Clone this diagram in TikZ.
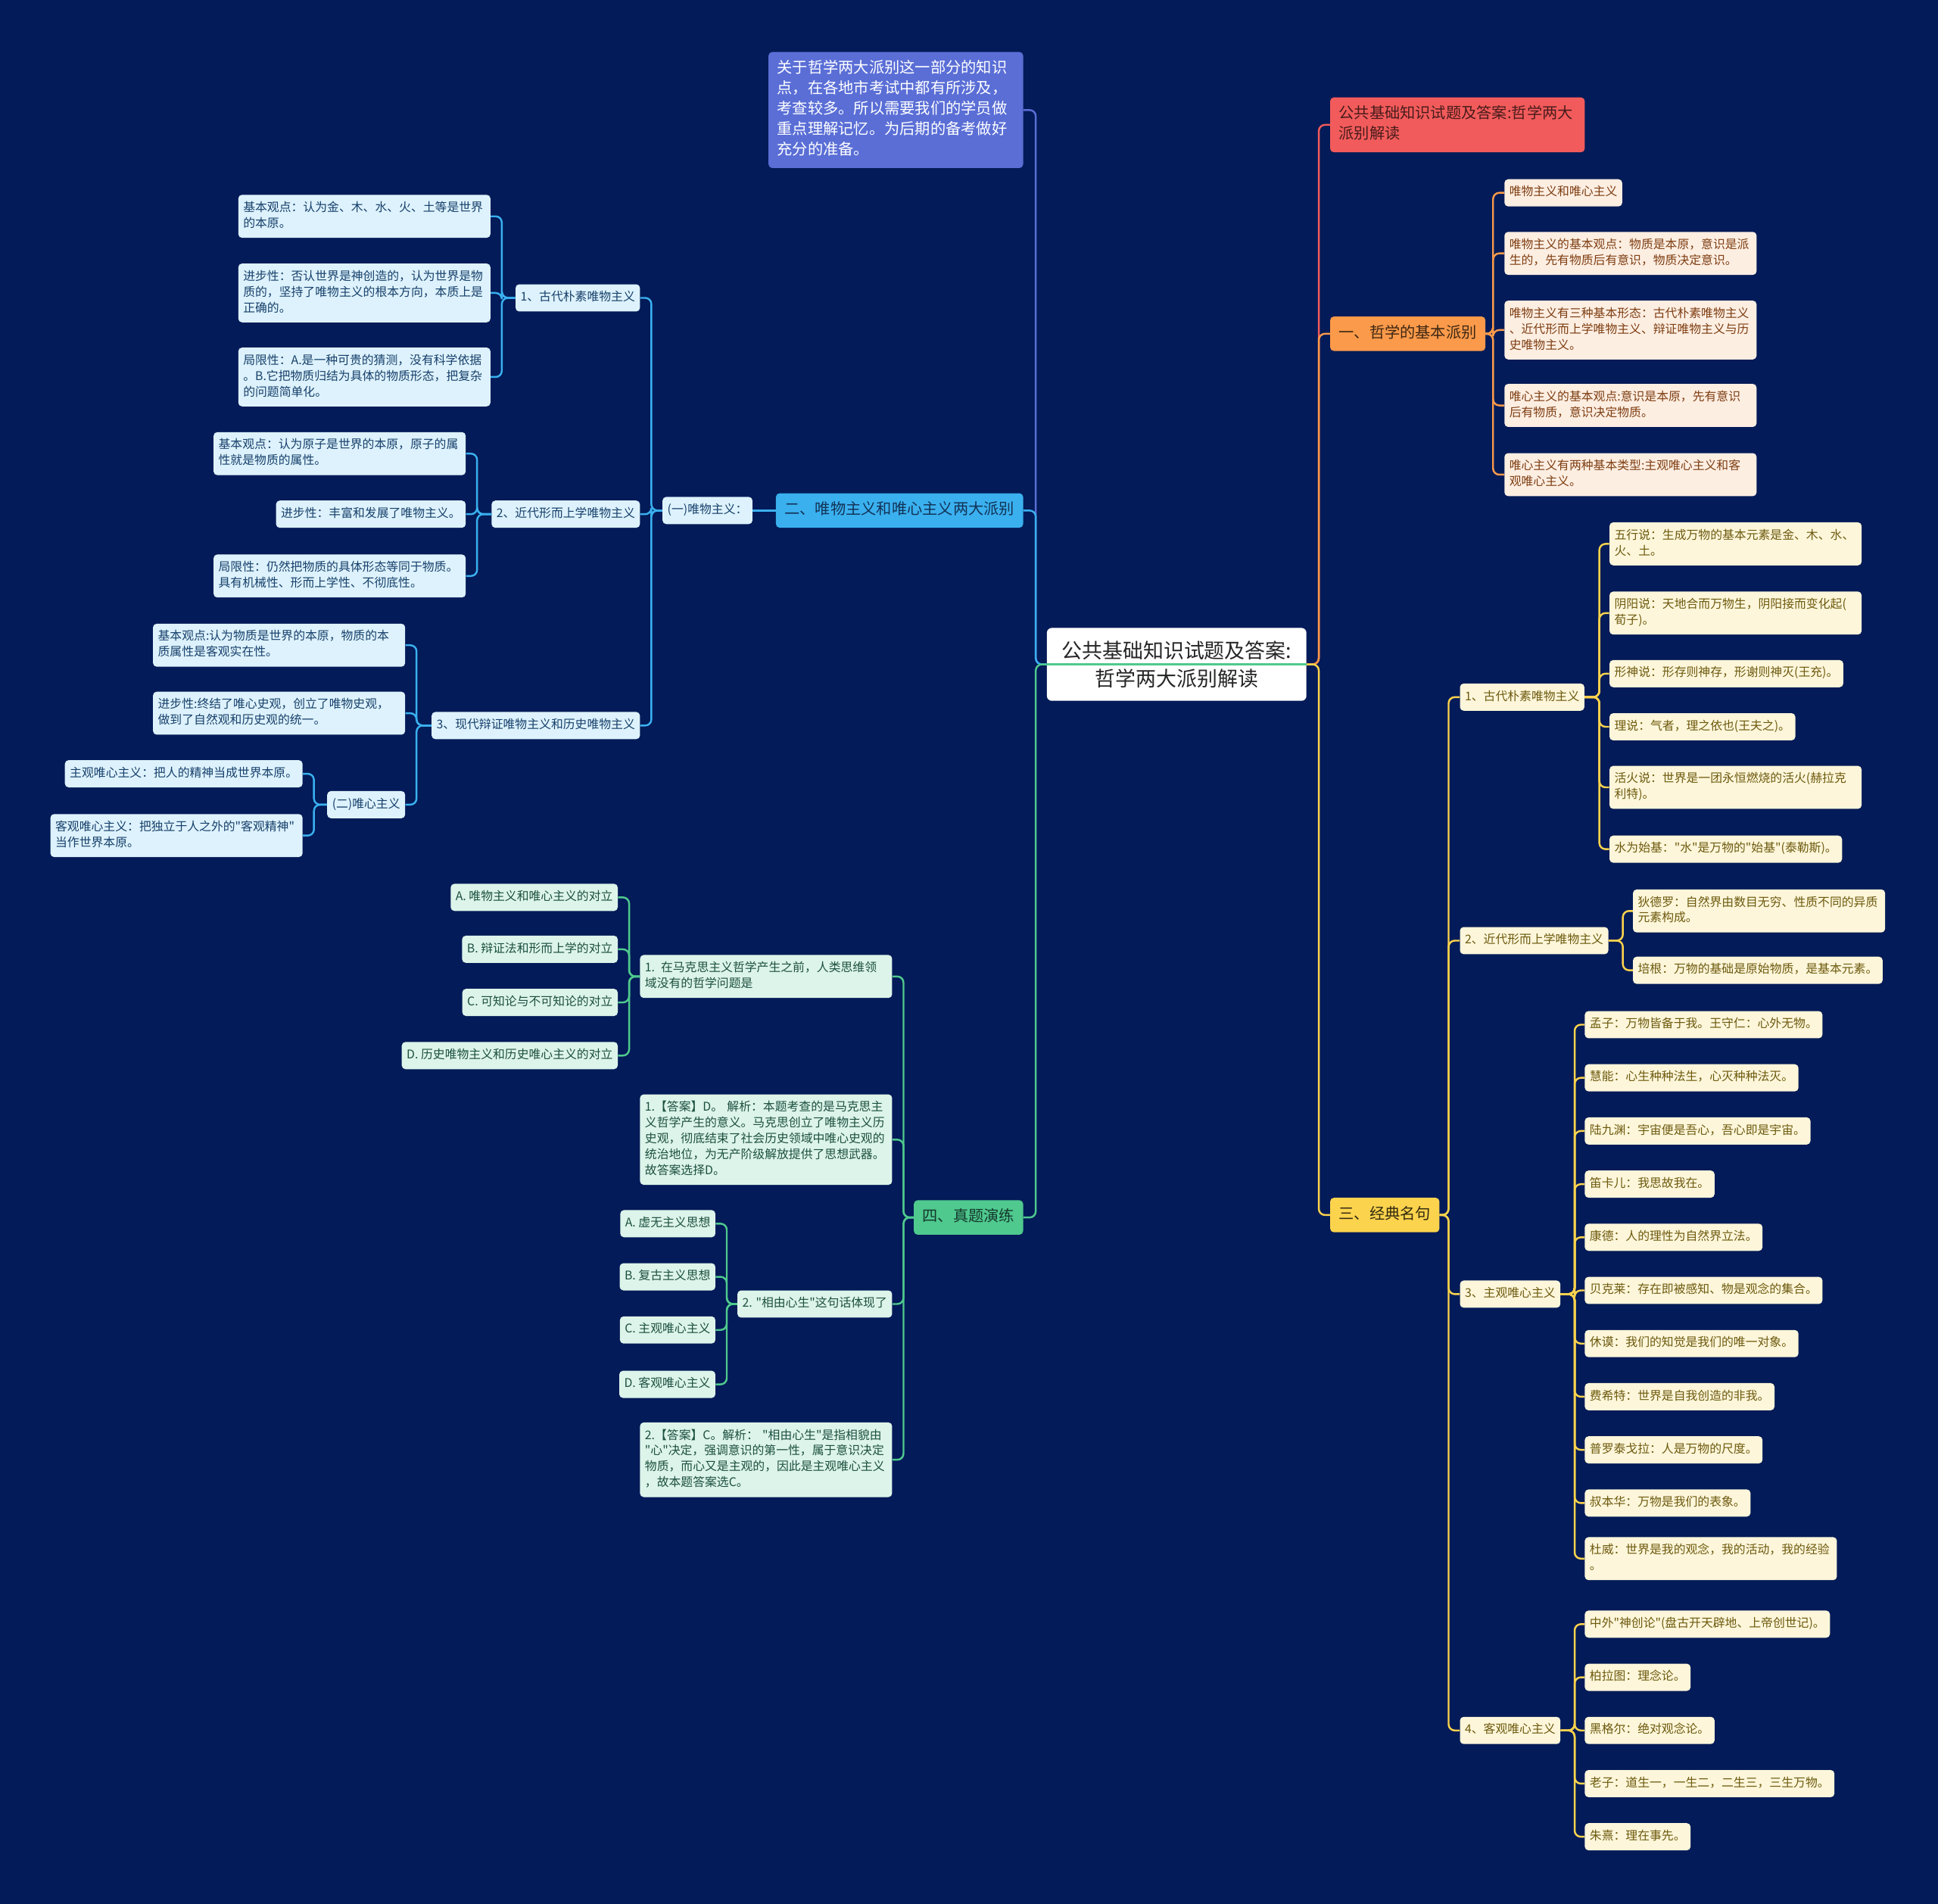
\documentclass[tikz,border=0pt]{standalone}
\usepackage{fontspec}
\setmainfont{Noto Sans CJK SC}
\newfontfamily\cjk{Noto Sans CJK SC}
\definecolor{bg}{HTML}{031B58}
\definecolor{notec}{HTML}{5A6ED6}
\definecolor{lblue}{HTML}{3AB0EF}
\definecolor{lbfill}{HTML}{DDF2FC}
\definecolor{lbtext}{HTML}{17406B}
\definecolor{gline}{HTML}{4FC98E}
\definecolor{gfill}{HTML}{DDF4EA}
\definecolor{gtext}{HTML}{1C5040}
\definecolor{redc}{HTML}{F25B5B}
\definecolor{orc}{HTML}{FA9A4A}
\definecolor{orfill}{HTML}{FDEEE2}
\definecolor{ortext}{HTML}{7E3E12}
\definecolor{yelc}{HTML}{FCD34D}
\definecolor{yfill}{HTML}{FDF6DA}
\definecolor{ytext}{HTML}{6D5A0E}
\newcommand\leaffont{\cjk\fontsize{9.7}{12.8}\selectfont}
\newcommand\lvlfont{\cjk\fontsize{12.4}{16.5}\selectfont}
\newcommand\rootfont{\cjk\fontsize{16.5}{23}\selectfont}
\tikzset{
  box/.style={rounded corners=3pt, inner xsep=4pt, inner ysep=4.6pt,
    execute at begin node=\strut, execute at end node=\strut,
    align=left, font=\leaffont},
  multi/.style={text width=196pt},
  lb/.style={box, fill=lbfill, text=lbtext},
  gb/.style={box, fill=gfill, text=gtext},
  ob/.style={box, fill=orfill, text=ortext},
  yb/.style={box, fill=yfill, text=ytext},
  lvl/.style={box, font=\lvlfont, inner xsep=7pt, inner ysep=5.7pt},
  cb/.style={draw=lblue, line width=1.5pt, rounded corners=5pt},
  cn/.style={draw=notec, line width=1.5pt, rounded corners=5pt},
  cg/.style={draw=gline, line width=1.5pt, rounded corners=5pt},
  cr/.style={draw=redc, line width=1.5pt, rounded corners=5pt},
  co/.style={draw=orc, line width=1.5pt, rounded corners=5pt},
  cy/.style={draw=yelc, line width=1.5pt, rounded corners=5pt},
}
\begin{document}
\begin{tikzpicture}[x=1pt,y=-1pt]
\fill[bg] (0,0) rectangle (1568,1540.4);
\useasboundingbox (0,0) rectangle (1568,1540.4);

% root
\node[rounded corners=4pt, fill=white, text=black!85, font=\rootfont, align=center,
  minimum width=210pt, minimum height=59pt, inner sep=2pt] (root) at (952,537.5)
  {公共基础知识试题及答案:\\哲学两大派别解读};

% ---------- left: note ----------
\node[lvl, fill=notec, text=white, text width=192pt, anchor=east] (note) at (828,89)
 {关于哲学两大派别这一部分的知识\\点，在各地市考试中都有所涉及，\\考查较多。所以需要我们的学员做\\重点理解记忆。为后期的备考做好\\充分的准备。};

% ---------- left: 二 ----------
\node[lvl, fill=lblue, text=black!20!lbtext, anchor=east] (n2) at (828,413) {二、唯物主义和唯心主义两大派别};
\node[lb, anchor=east] (m) at (609,413) {(一)唯物主义：};
\node[lb, anchor=east] (m1) at (518,241) {1、古代朴素唯物主义};
\node[lb, anchor=east] (m2) at (518,416) {2、近代形而上学唯物主义};
\node[lb, anchor=east] (m3) at (518,587) {3、现代辩证唯物主义和历史唯物主义};

\node[lb, multi, anchor=east] (a1) at (397,175) {基本观点：认为金、木、水、火、土等是世界\\的本原。};
\node[lb, multi, anchor=east] (a2) at (397,237) {进步性：否认世界是神创造的，认为世界是物\\质的，坚持了唯物主义的根本方向，本质上是\\正确的。};
\node[lb, multi, anchor=east] (a3) at (397,305) {局限性：A.是一种可贵的猜测，没有科学依据\\。B.它把物质归结为具体的物质形态，把复杂\\的问题简单化。};

\node[lb, multi, anchor=east] (b1) at (377,367) {基本观点：认为原子是世界的本原，原子的属\\性就是物质的属性。};
\node[lb, anchor=east] (b2) at (377,416) {进步性：丰富和发展了唯物主义。};
\node[lb, multi, anchor=east] (b3) at (377,466) {局限性：仍然把物质的具体形态等同于物质。\\具有机械性、形而上学性、不彻底性。};

\node[lb, multi, anchor=east] (c1) at (328,522) {基本观点:认为物质是世界的本原，物质的本\\质属性是客观实在性。};
\node[lb, multi, anchor=east] (c2) at (328,577) {进步性:终结了唯心史观，创立了唯物史观，\\做到了自然观和历史观的统一。};
\node[lb, anchor=east] (c3) at (328,651) {(二)唯心主义};

\node[lb, anchor=east] (d1) at (245,626) {主观唯心主义：把人的精神当成世界本原。};
\node[lb, multi, anchor=east] (d2) at (245,676) {客观唯心主义：把独立于人之外的"客观精神"\\当作世界本原。};

% ---------- left: 四 ----------
\node[lvl, fill=gline, text=black!30!gtext, anchor=east] (n4) at (828,985) {四、真题演练};
\node[gb, multi, anchor=east] (q1) at (722,790) {1. 在马克思主义哲学产生之前，人类思维领\\域没有的哲学问题是};
\node[gb, multi, anchor=east] (qa1) at (722,922) {1.【答案】D。 解析：本题考查的是马克思主\\义哲学产生的意义。马克思创立了唯物主义历\\史观，彻底结束了社会历史领域中唯心史观的\\统治地位，为无产阶级解放提供了思想武器。\\故答案选择D。};
\node[gb, anchor=east] (q2) at (722,1055) {2. "相由心生"这句话体现了};
\node[gb, multi, anchor=east] (qa2) at (722,1181) {2.【答案】C。解析： "相由心生"是指相貌由\\"心"决定，强调意识的第一性，属于意识决定\\物质，而心又是主观的，因此是主观唯心主义\\，故本题答案选C。};

\node[gb, anchor=east] (qA) at (500,726) {A. 唯物主义和唯心主义的对立};
\node[gb, anchor=east] (qB) at (500,768) {B. 辩证法和形而上学的对立};
\node[gb, anchor=east] (qC) at (500,811) {C. 可知论与不可知论的对立};
\node[gb, anchor=east] (qD) at (500,854) {D. 历史唯物主义和历史唯心主义的对立};

\node[gb, anchor=east] (pA) at (579,990) {A. 虚无主义思想};
\node[gb, anchor=east] (pB) at (579,1033) {B. 复古主义思想};
\node[gb, anchor=east] (pC) at (579,1076) {C. 主观唯心主义};
\node[gb, anchor=east] (pD) at (579,1120) {D. 客观唯心主义};

% ---------- right: red ----------
\node[lvl, fill=redc, text=black!70!redc, text width=192pt, anchor=west] (red) at (1076,101)
 {公共基础知识试题及答案:哲学两大\\派别解读};

% ---------- right: 一 ----------
\node[lvl, fill=orc, text=black!75!orc, anchor=west] (n1) at (1076,270) {一、哲学的基本派别};
\node[ob, anchor=west] (o1) at (1217,156) {唯物主义和唯心主义};
\node[ob, multi, anchor=west] (o2) at (1217,205) {唯物主义的基本观点：物质是本原，意识是派\\生的，先有物质后有意识，物质决定意识。};
\node[ob, multi, anchor=west] (o3) at (1217,267) {唯物主义有三种基本形态：古代朴素唯物主义\\、近代形而上学唯物主义、辩证唯物主义与历\\史唯物主义。};
\node[ob, multi, anchor=west] (o4) at (1217,328) {唯心主义的基本观点:意识是本原，先有意识\\后有物质，意识决定物质。};
\node[ob, multi, anchor=west] (o5) at (1217,384) {唯心主义有两种基本类型:主观唯心主义和客\\观唯心主义。};

% ---------- right: 三 ----------
\node[lvl, fill=yelc, text=black!80!yelc, anchor=west] (n3) at (1076,983) {三、经典名句};
\node[yb, anchor=west] (y1) at (1181,564) {1、古代朴素唯物主义};
\node[yb, anchor=west] (y2) at (1181,761) {2、近代形而上学唯物主义};
\node[yb, anchor=west] (y3) at (1181,1047) {3、主观唯心主义};
\node[yb, anchor=west] (y4) at (1181,1400) {4、客观唯心主义};

\node[yb, multi, anchor=west] (e1) at (1302,440) {五行说：生成万物的基本元素是金、木、水、\\火、土。};
\node[yb, multi, anchor=west] (e2) at (1302,496) {阴阳说：天地合而万物生，阴阳接而变化起(\\荀子)。};
\node[yb, anchor=west] (e3) at (1302,545) {形神说：形存则神存，形谢则神灭(王充)。};
\node[yb, anchor=west] (e4) at (1302,588) {理说：气者，理之依也(王夫之)。};
\node[yb, multi, anchor=west] (e5) at (1302,637) {活火说：世界是一团永恒燃烧的活火(赫拉克\\利特)。};
\node[yb, anchor=west] (e6) at (1302,687) {水为始基："水"是万物的"始基"(泰勒斯)。};

\node[yb, multi, anchor=west] (f1) at (1321,737) {狄德罗：自然界由数目无穷、性质不同的异质\\元素构成。};
\node[yb, anchor=west] (f2) at (1321,785) {培根：万物的基础是原始物质，是基本元素。};

\node[yb, anchor=west] (g1) at (1282,829) {孟子：万物皆备于我。王守仁：心外无物。};
\node[yb, anchor=west] (g2) at (1282,872) {慧能：心生种种法生，心灭种种法灭。};
\node[yb, anchor=west] (g3) at (1282,915) {陆九渊：宇宙便是吾心，吾心即是宇宙。};
\node[yb, anchor=west] (g4) at (1282,958) {笛卡儿：我思故我在。};
\node[yb, anchor=west] (g5) at (1282,1001) {康德：人的理性为自然界立法。};
\node[yb, anchor=west] (g6) at (1282,1044) {贝克莱：存在即被感知、物是观念的集合。};
\node[yb, anchor=west] (g7) at (1282,1087) {休谟：我们的知觉是我们的唯一对象。};
\node[yb, anchor=west] (g8) at (1282,1130) {费希特：世界是自我创造的非我。};
\node[yb, anchor=west] (g9) at (1282,1173) {普罗泰戈拉：人是万物的尺度。};
\node[yb, anchor=west] (g10) at (1282,1216) {叔本华：万物是我们的表象。};
\node[yb, multi, anchor=west] (g11) at (1282,1261) {杜威：世界是我的观念，我的活动，我的经验\\。};

\node[yb, anchor=west] (h1) at (1282,1314) {中外"神创论"(盘古开天辟地、上帝创世记)。};
\node[yb, anchor=west] (h2) at (1282,1357) {柏拉图：理念论。};
\node[yb, anchor=west] (h3) at (1282,1400) {黑格尔：绝对观念论。};
\node[yb, anchor=west] (h4) at (1282,1443) {老子：道生一，一生二，二生三，三生万物。};
\node[yb, anchor=west] (h5) at (1282,1486) {朱熹：理在事先。};

% ---------- connectors ----------
\draw[cn] (root.west) -| ([xshift=10pt]note.east) -- (note.east);
\draw[cb] (root.west) -| ([xshift=10pt]n2.east) -- (n2.east);
\draw[cg] (root.west) -| ([xshift=10pt]n4.east) -- (n4.east);
\draw[cr] (root.east) -| ([xshift=-9pt]red.west) -- (red.west);
\draw[co] (root.east) -| ([xshift=-9pt]n1.west) -- (n1.west);
\draw[cy] (root.east) -| ([xshift=-9pt]n3.west) -- (n3.west);
\draw[cg] (root.west) -- (root.east);

\draw[cb] (n2.west) -- (m.east);
\foreach \c in {m1,m2,m3} \draw[cb] (m.west) -| ([xshift=9pt]\c.east) -- (\c.east);
\foreach \c in {a1,a2,a3} \draw[cb] (m1.west) -| ([xshift=9pt]\c.east) -- (\c.east);
\foreach \c in {b1,b2,b3} \draw[cb] (m2.west) -| ([xshift=9pt]\c.east) -- (\c.east);
\foreach \c in {c1,c2,c3} \draw[cb] (m3.west) -| ([xshift=9pt]\c.east) -- (\c.east);
\foreach \c in {d1,d2} \draw[cb] (c3.west) -| ([xshift=9pt]\c.east) -- (\c.east);

\foreach \c in {q1,qa1,q2,qa2} \draw[cg] (n4.west) -| ([xshift=9pt]\c.east) -- (\c.east);
\foreach \c in {qA,qB,qC,qD} \draw[cg] (q1.west) -| ([xshift=9pt]\c.east) -- (\c.east);
\foreach \c in {pA,pB,pC,pD} \draw[cg] (q2.west) -| ([xshift=9pt]\c.east) -- (\c.east);

\foreach \c in {o1,o2,o3,o4,o5} \draw[co] (n1.east) -| ([xshift=-9pt]\c.west) -- (\c.west);
\foreach \c in {y1,y2,y3,y4} \draw[cy] (n3.east) -| ([xshift=-9pt]\c.west) -- (\c.west);
\foreach \c in {e1,e2,e3,e4,e5,e6} \draw[cy] (y1.east) -| ([xshift=-8pt]\c.west) -- (\c.west);
\foreach \c in {f1,f2} \draw[cy] (y2.east) -| ([xshift=-8pt]\c.west) -- (\c.west);
\foreach \c in {g1,g2,g3,g4,g5,g6,g7,g8,g9,g10,g11} \draw[cy] (y3.east) -| ([xshift=-8pt]\c.west) -- (\c.west);
\foreach \c in {h1,h2,h3,h4,h5} \draw[cy] (y4.east) -| ([xshift=-8pt]\c.west) -- (\c.west);
\end{tikzpicture}
\end{document}
